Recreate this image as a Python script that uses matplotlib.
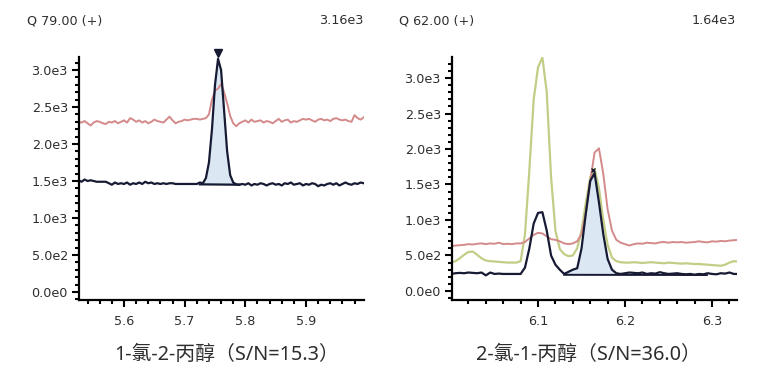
import numpy as np
import matplotlib
matplotlib.use("Agg")
import matplotlib.pyplot as plt
from matplotlib.ticker import MultipleLocator, FuncFormatter
from matplotlib.transforms import offset_copy

plt.rcParams['font.family'] = ['DejaVu Sans', 'Noto Sans CJK SC']

# ---------------- data ----------------
left_x_start, left_x_step = 5.525, 0.005
left_red = [2300, 2290, 2310, 2280, 2250, 2290, 2310, 2300, 2280, 2270, 2300, 2290, 2310, 2280,
            2300, 2320, 2290, 2350, 2330, 2300, 2320, 2290, 2310, 2280, 2300, 2330, 2310, 2300,
            2290, 2330, 2370, 2320, 2280, 2300, 2310, 2330, 2320, 2330, 2340, 2340, 2330,
            2340, 2350, 2400, 2600, 2720, 2750, 2810, 2700, 2550, 2380, 2280, 2240, 2280,
            2300, 2320, 2290, 2330, 2300, 2310, 2320, 2290, 2310, 2300, 2280, 2310, 2340, 2300,
            2320, 2330, 2290, 2310, 2300, 2320, 2340, 2330, 2340, 2320, 2300, 2330, 2340, 2320,
            2330, 2310, 2340, 2350, 2330, 2320, 2330, 2310, 2300, 2390, 2350, 2330, 2360]
left_black = [1510, 1490, 1520, 1500, 1510, 1500, 1490, 1490, 1490, 1490, 1470, 1450, 1480, 1460,
              1470, 1460, 1480, 1450, 1470, 1460, 1480, 1460, 1490, 1470, 1480, 1460, 1470, 1460,
              1470, 1460, 1470, 1470, 1460, 1460, 1460, 1460, 1460, 1460, 1460, 1460, 1480,
              1470, 1540, 1750, 2200, 2800, 3150, 3000, 2450, 1900, 1580, 1480, 1455, 1450,
              1460, 1450, 1470, 1440, 1460, 1450, 1470, 1460, 1440, 1460, 1470, 1450, 1460, 1440,
              1470, 1460, 1480, 1450, 1460, 1470, 1440, 1460, 1450, 1470, 1460, 1430, 1450, 1440,
              1460, 1470, 1450, 1470, 1440, 1460, 1480, 1460, 1450, 1470, 1460, 1480, 1470]
left_peak_range = [5.725, 5.790]
left_peak_baseline = [1455, 1450]
left_apex = [5.755, 3150]

right_x_start, right_x_step = 6.000, 0.005
right_green = [400, 420, 460, 510, 550, 555, 510, 460, 430, 420, 415, 410, 405, 400, 400, 400,
               420, 800, 1700, 2700, 3150, 3290, 2800, 1600, 850, 590, 520, 490, 500, 600, 850,
               1250, 1600, 1720, 1450, 1000, 650, 470, 420, 405, 400, 400, 405, 400, 395, 400,
               405, 400, 395, 390, 400, 395, 390, 385, 390, 385, 380, 380, 375, 370, 365, 360,
               355, 370, 400, 420, 415]
right_red = [630, 640, 645, 650, 660, 655, 665, 670, 660, 670, 665, 680, 660, 665, 660, 670,
             670, 690, 740, 790, 820, 810, 770, 730, 720, 700, 670, 660, 670, 700, 800, 1100,
             1550, 1950, 2010, 1650, 1150, 850, 720, 680, 660, 640, 660, 670, 665, 680, 675,
             670, 685, 690, 680, 690, 685, 690, 680, 685, 690, 700, 690, 685, 700, 695, 705,
             700, 710, 715, 720]
right_black = [240, 250, 255, 250, 260, 255, 250, 260, 220, 260, 240, 245, 240, 240, 240, 240,
               240, 330, 600, 950, 1100, 1110, 850, 500, 370, 300, 240, 270, 300, 320, 600, 1100,
               1550, 1660, 1250, 800, 450, 300, 250, 240, 250, 260, 255, 250, 260, 240, 250, 245,
               265, 250, 240, 245, 250, 240, 235, 240, 230, 240, 235, 250, 240, 235, 250, 245,
               260, 240, 240]
right_peak_range = [6.130, 6.195]
right_baseline_range = [6.130, 6.294]
right_peak_baseline = [228, 225]
right_apex = [6.163, 1700]

headers = [("Q 79.00 (+)", "3.16e3"), ("Q 62.00 (+)", "1.64e3")]
titles = ["1-氯-2-丙醇（S/N=15.3）", "2-氯-1-丙醇（S/N=36.0）"]

C_RED = "#d48a8a"
C_BLACK = "#171a33"
C_GREEN = "#c3cd86"
C_FILL = "#dbe8f4"
C_TEXT = "#2e2e2e"

W, H = 770, 373
fig = plt.figure(figsize=(W / 100, H / 100), dpi=100)


def px_axes(x0, x1, ytop, ybot):
    return fig.add_axes([x0 / W, (H - ybot) / H, (x1 - x0) / W, (ybot - ytop) / H])


def fmt(v, pos):
    if abs(v) < 1e-9:
        return "0.0e0"
    e = int(np.floor(np.log10(abs(v))))
    m = v / 10 ** e
    return f"{m:.1f}e{e}"


def style(ax, xmajor, xlim, ylim):
    ax.set_xlim(*xlim)
    ax.set_ylim(*ylim)
    for s in ["top", "right"]:
        ax.spines[s].set_visible(False)
    for s in ["left", "bottom"]:
        ax.spines[s].set_linewidth(1.6)
        ax.spines[s].set_color("black")
    ax.xaxis.set_major_locator(MultipleLocator(xmajor))
    ax.xaxis.set_minor_locator(MultipleLocator(0.02))
    ax.yaxis.set_major_locator(MultipleLocator(500))
    ax.yaxis.set_minor_locator(MultipleLocator(100))
    ax.yaxis.set_major_formatter(FuncFormatter(fmt))
    ax.xaxis.set_major_formatter(FuncFormatter(lambda v, p: f"{v:.1f}"))
    ax.tick_params(axis="both", which="major", length=5, width=1.5, labelsize=9.2,
                   labelcolor=C_TEXT, pad=3)
    ax.tick_params(axis="both", which="minor", length=3, width=1.5)
    ax.tick_params(axis="x", which="major", pad=6)


# ---------- left panel ----------
axL = px_axes(79, 364, 57, 300)
xl = left_x_start + left_x_step * np.arange(len(left_red))
axL.plot(xl, left_red, color=C_RED, lw=1.4)
mask = (xl >= left_peak_range[0]) & (xl <= left_peak_range[1])
base = np.interp(xl[mask], left_peak_range, left_peak_baseline)
axL.fill_between(xl[mask], base, np.array(left_black)[mask], color=C_FILL, lw=0)
axL.plot(xl, left_black, color=C_BLACK, lw=1.6)
axL.plot(left_peak_range, left_peak_baseline, color=C_BLACK, lw=1.6)
tr = offset_copy(axL.transData, fig=fig, x=0, y=4, units="points")
axL.plot([left_apex[0]], [left_apex[1]], marker="v", color=C_BLACK, ms=6, transform=tr,
         clip_on=False)
style(axL, 0.1, (5.5258, 5.9956), (-108, 3176))

# ---------- right panel ----------
axR = px_axes(452, 737, 57, 300)
xr = right_x_start + right_x_step * np.arange(len(right_red))
axR.plot(xr, right_green, color=C_GREEN, lw=1.6)
axR.plot(xr, right_red, color=C_RED, lw=1.4)
mask = (xr >= right_peak_range[0]) & (xr <= right_peak_range[1])
base = np.interp(xr[mask], right_baseline_range, right_peak_baseline)
axR.fill_between(xr[mask], base, np.array(right_black)[mask], color=C_FILL, lw=0)
axR.plot(xr, right_black, color=C_BLACK, lw=1.6)
axR.plot(right_baseline_range, right_peak_baseline, color=C_BLACK, lw=1.4)
axR.plot([right_apex[0]], [right_apex[1]], marker="x", color=C_BLACK, ms=3, mew=1)
style(axR, 0.1, (6.0011, 6.3287), (-127, 3296))

# ---------- texts ----------
hy = 1 - 21 / H
fig.text(27 / W, hy, headers[0][0], ha="left", va="center", fontsize=9.2, color=C_TEXT)
fig.text(363 / W, hy, headers[0][1], ha="right", va="center", fontsize=9.2, color=C_TEXT)
fig.text(399 / W, hy, headers[1][0], ha="left", va="center", fontsize=9.2, color=C_TEXT)
fig.text(736 / W, hy, headers[1][1], ha="right", va="center", fontsize=9.2, color=C_TEXT)
tfam = ['Noto Sans', 'Noto Sans CJK SC', 'DejaVu Sans']
fig.text(227 / W, 1 - 355 / H, titles[0], ha="center", va="center", fontsize=14.3,
         color=C_TEXT, family=tfam)
fig.text(588 / W, 1 - 355 / H, titles[1], ha="center", va="center", fontsize=14.3,
         color=C_TEXT, family=tfam)

fig.savefig("out.png", dpi=100)
